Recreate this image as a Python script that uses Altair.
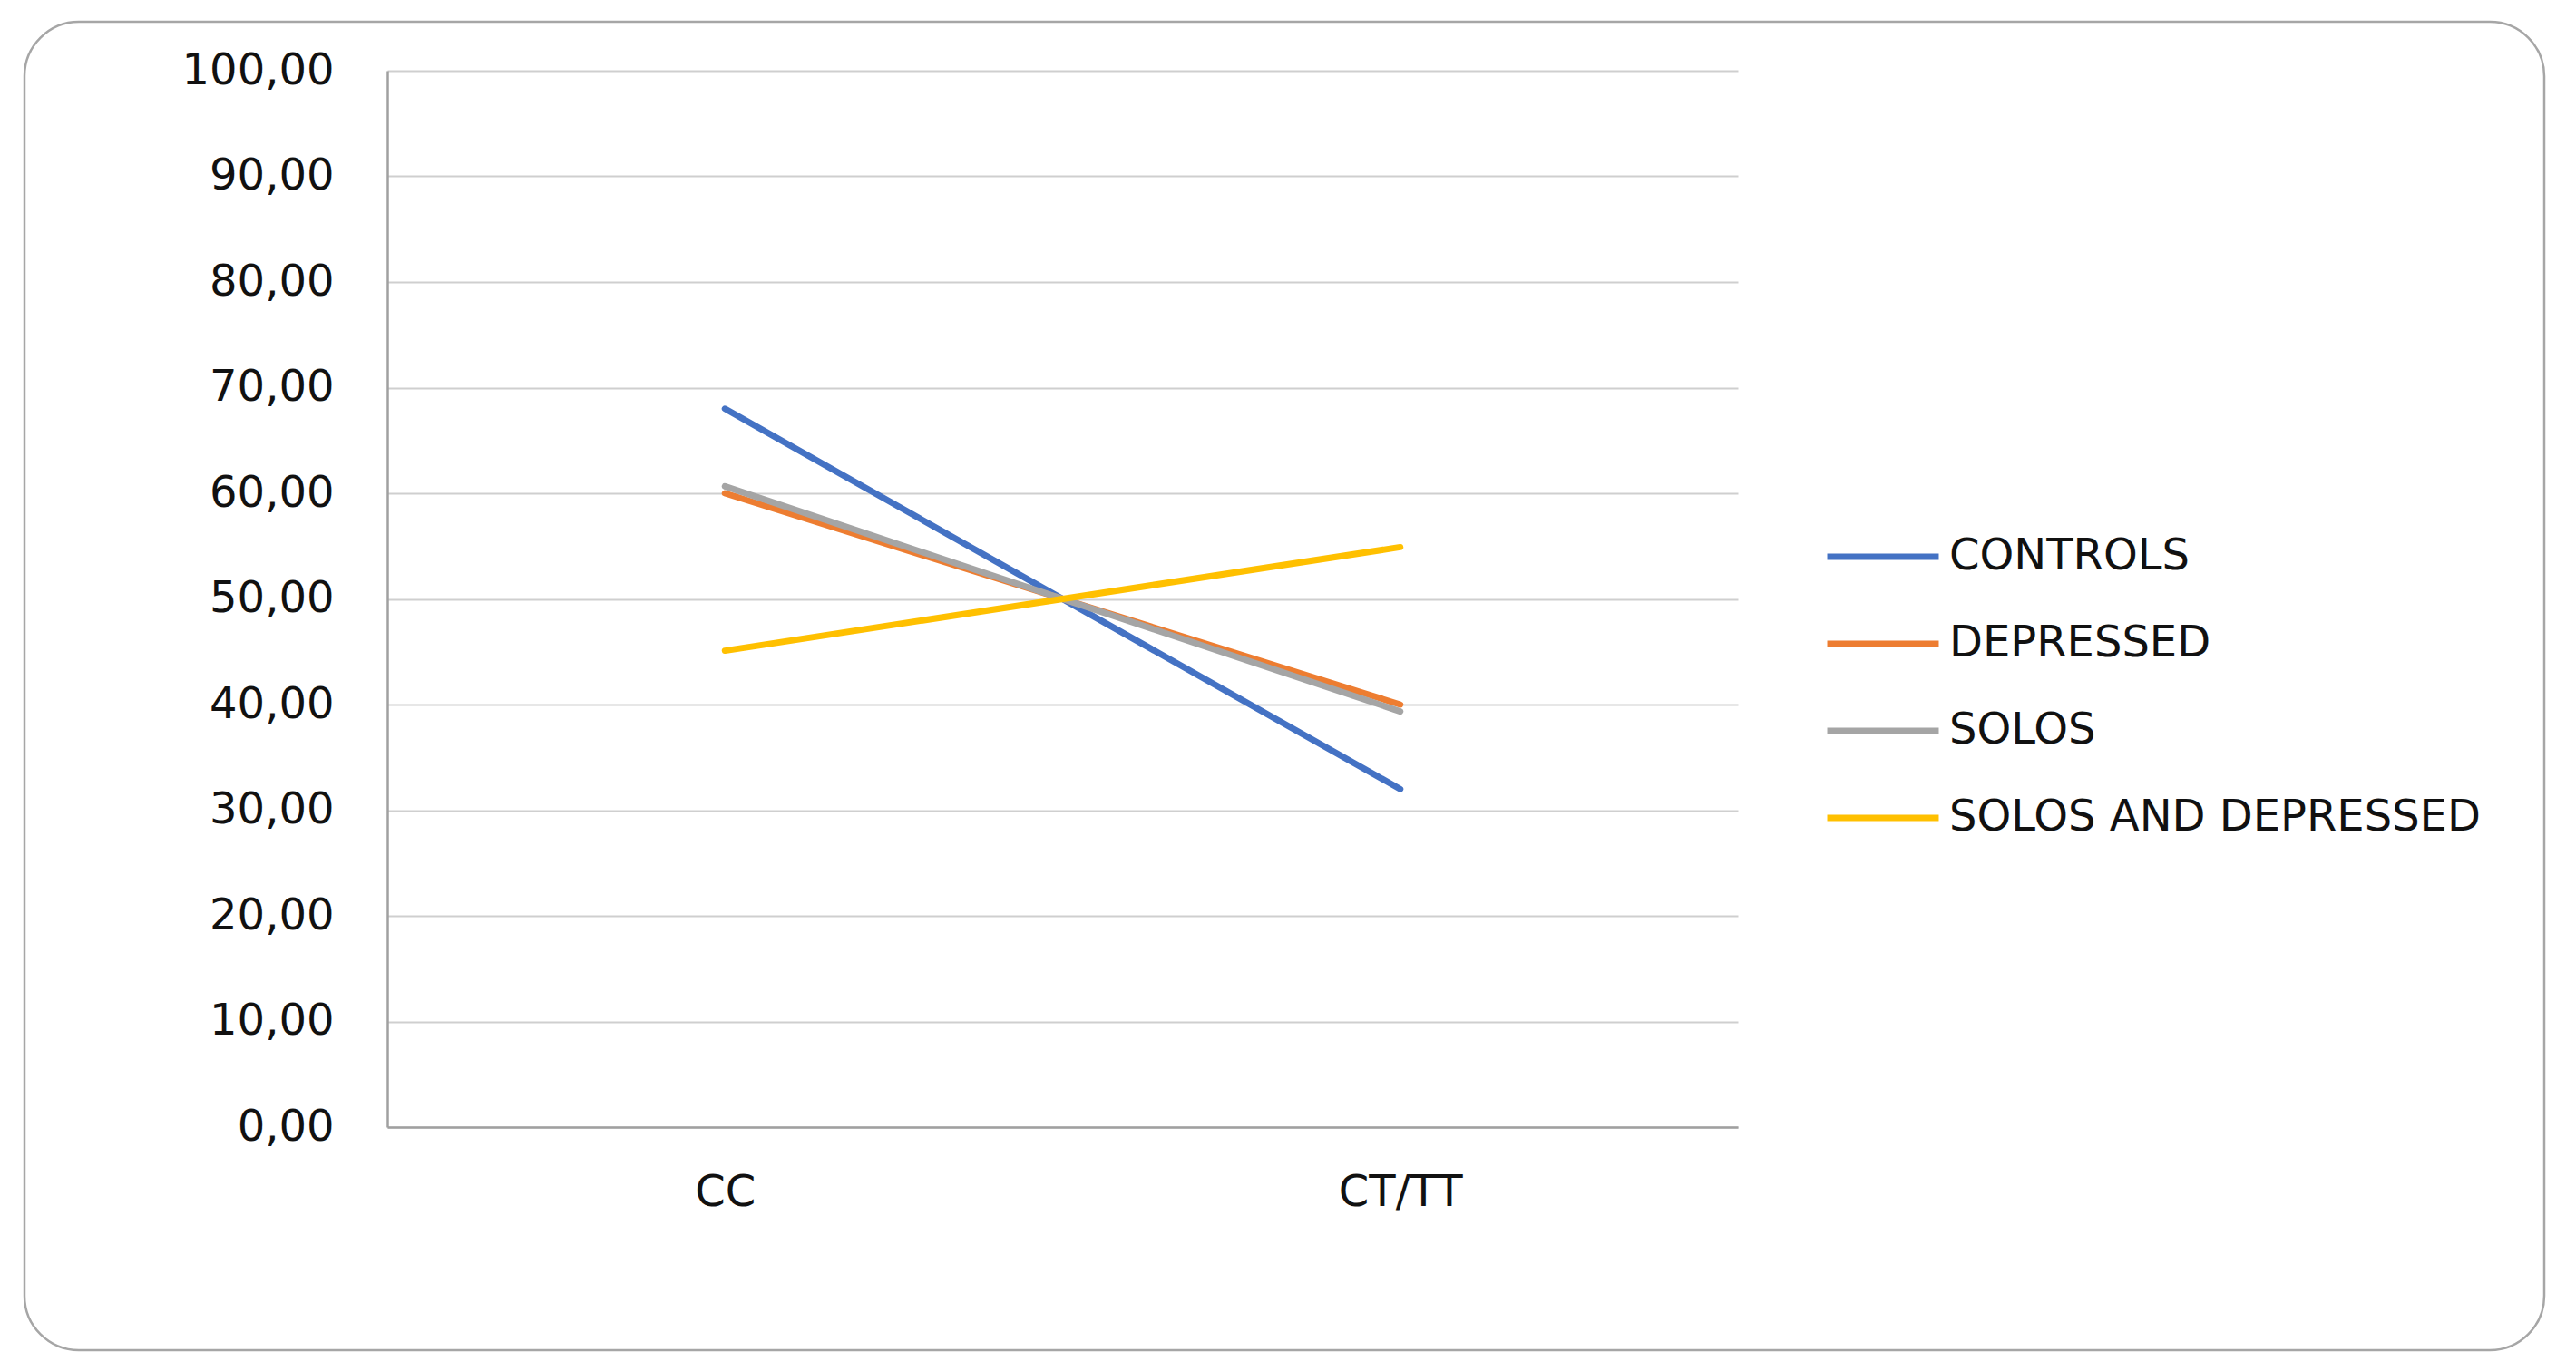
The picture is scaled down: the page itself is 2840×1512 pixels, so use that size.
import altair as alt
import pandas as pd

categories = ["CC", "CT/TT"]
series_names = ["CONTROLS", "DEPRESSED", "SOLOS", "SOLOS AND DEPRESSED"]
controls = [68.0, 32.0]
depressed = [60.0, 40.0]
solos = [60.65, 39.35]
solos_depressed = [45.1, 54.9]
y_ticks = [0, 10, 20, 30, 40, 50, 60, 70, 80, 90, 100]
colors = ["#4472C4", "#ED7D31", "#A5A5A5", "#FFC000"]

rows = []
for name, vals in zip(series_names, [controls, depressed, solos, solos_depressed]):
    for c, v in zip(categories, vals):
        rows.append({"genotype": c, "value": v, "group": name})
df = pd.DataFrame(rows)

FONT = "DejaVu Sans"
FS = 48
W, H = 1489, 1165

lines = alt.Chart(df).mark_line(strokeWidth=7, strokeCap="round").encode(
    x=alt.X("genotype:N", sort=categories,
            scale=alt.Scale(type="point", padding=0.5),
            axis=alt.Axis(title=None, labelAngle=0, ticks=False, grid=False,
                          domainColor="#a0a0a0", domainWidth=2.5,
                          labelFont=FONT, labelFontSize=FS, labelColor="#111111",
                          labelPadding=48)),
    y=alt.Y("value:Q", scale=alt.Scale(domain=[0, 100], nice=False),
            axis=alt.Axis(title=None, values=y_ticks, ticks=False,
                          labelExpr="replace(format(datum.value, '.2f'), '.', ',')",
                          domainColor="#a0a0a0", domainWidth=2.5,
                          gridColor="#cfcfcf", gridWidth=2,
                          labelFont=FONT, labelFontSize=FS, labelColor="#111111",
                          labelPadding=59)),
    color=alt.Color("group:N", sort=series_names,
                    scale=alt.Scale(domain=series_names, range=colors),
                    legend=alt.Legend(title=None, orient="none",
                                      legendX=1625, legendY=512,
                                      symbolType="M-4,0L4,0", symbolSize=945,
                                      symbolStrokeWidth=7, symbolFillColor="transparent",
                                      labelFont=FONT, labelFontSize=FS, labelColor="#111111",
                                      labelOffset=49, rowPadding=48, padding=0,
                                      labelLimit=0)),
)

frame_df = pd.DataFrame({"k": [0]})
frame = alt.Chart(frame_df).mark_rect(
    fill="transparent", stroke="#a6a6a6", strokeWidth=2.5, cornerRadius=60
).encode(
    x=alt.value(-400), x2=alt.value(2378), y=alt.value(-54), y2=alt.value(1411)
)

chart = alt.layer(frame, lines).properties(
    width=W, height=H,
    autosize=alt.AutoSizeParams(type="none"),
    padding={"left": 419, "top": 70, "right": 900, "bottom": 250},
    background="white",
).configure_view(stroke=None)

chart.save("out.html", embed_options={"renderer": "svg", "actions": False})
